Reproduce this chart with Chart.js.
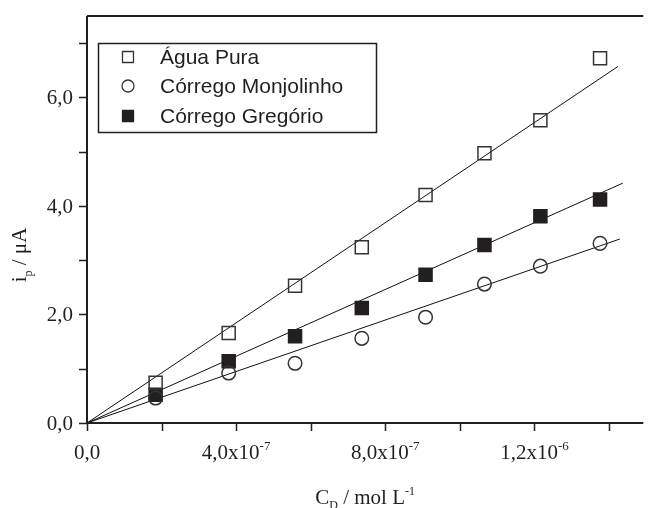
<!DOCTYPE html>
<html>
<head>
<meta charset="utf-8">
<script src="https://cdn.jsdelivr.net/npm/chart.js@4.4.1/dist/chart.umd.min.js"></script>
<style>
  html, body { margin: 0; padding: 0; background: #fff; overflow: hidden; }
</style>
</head>
<body>
<canvas id="chartCanvas" width="654" height="508"></canvas>
<script>
// concentration of D (mol/L) for each addition
const concentrations = [1.84e-7, 3.8e-7, 5.58e-7, 7.37e-7, 9.08e-7, 10.66e-7, 12.16e-7, 13.76e-7];
// peak current (uA)
const aguaPura   = [0.74, 1.66, 2.53, 3.24, 4.2, 4.97, 5.58, 6.72];
const monjolinho = [0.46, 0.92, 1.1, 1.56, 1.95, 2.56, 2.89, 3.31];
const gregorio   = [0.52, 1.14, 1.6, 2.12, 2.73, 3.28, 3.81, 4.12];

// fitted lines, start and end points
const fitAguaX = [0, 1.424e-6], fitAguaY = [0, 6.57];
const fitMonjX = [0, 1.429e-6], fitMonjY = [0, 3.39];
const fitGregX = [0, 1.437e-6], fitGregY = [0, 4.42];

const seriesNames = ['Água Pura', 'Córrego Monjolinho', 'Córrego Gregório'];

const xMajorTicks = [0, 4e-7, 8e-7, 1.2e-6];
const xMinorTicks = [2e-7, 6e-7, 1e-6, 1.4e-6];
const xTickLabels = [['0,0', ''], ['4,0x10', '-7'], ['8,0x10', '-7'], ['1,2x10', '-6']];
const yMajorTicks = [0, 2, 4, 6];
const yMinorTicks = [1, 3, 5, 7];
const yTickLabels = ['0,0', '2,0', '4,0', '6,0'];

const ink = '#231f20';
const SERIF = '"Liberation Serif", "Times New Roman", serif';
const SANS = '"Liberation Sans", Arial, sans-serif';

function pts(xs, ys) {
  return xs.map((v, i) => ({ x: v, y: ys[i] }));
}

function fitLine(xs, ys) {
  return {
    data: pts(xs, ys), showLine: true, pointRadius: 0,
    borderColor: '#111', borderWidth: 1, fill: false, order: 2
  };
}

const markerStyles = [
  { pointStyle: 'rect', pointRadius: 9.2, backgroundColor: 'rgba(255,255,255,0)', borderColor: '#333' },
  { pointStyle: 'circle', pointRadius: 6.8, backgroundColor: 'rgba(255,255,255,0)', borderColor: '#333' },
  { pointStyle: 'rect', pointRadius: 9.2, backgroundColor: ink, borderColor: ink }
];

const seriesData = [aguaPura, monjolinho, gregorio];
const markerSets = seriesData.map((ys, i) => Object.assign({
  label: seriesNames[i],
  data: pts(concentrations, ys),
  pointBorderWidth: 1.5,
  showLine: false,
  order: 1
}, markerStyles[i]));

function drawRich(ctx, parts, x, y, align) {
  let total = 0;
  parts.forEach(p => {
    ctx.font = p.size + 'px ' + SERIF;
    total += ctx.measureText(p.t).width;
  });
  let cx = align === 'center' ? x - total / 2 : (align === 'right' ? x - total : x);
  ctx.textAlign = 'left';
  ctx.textBaseline = 'alphabetic';
  parts.forEach(p => {
    ctx.font = p.size + 'px ' + SERIF;
    ctx.fillText(p.t, cx, y + (p.dy || 0));
    cx += ctx.measureText(p.t).width;
  });
}

const framePlugin = {
  id: 'framePlugin',
  afterDraw(chart) {
    const { ctx, chartArea: a } = chart;
    const xs = chart.scales.x, ys = chart.scales.y;
    ctx.save();
    ctx.strokeStyle = ink;
    ctx.fillStyle = ink;

    // axes and top border
    ctx.lineWidth = 2;
    ctx.beginPath();
    ctx.moveTo(a.left, a.top); ctx.lineTo(a.right, a.top);
    ctx.moveTo(a.left, a.top); ctx.lineTo(a.left, a.bottom); ctx.lineTo(a.right, a.bottom);
    ctx.stroke();

    // tick marks
    ctx.lineWidth = 1.5;
    ctx.beginPath();
    xMajorTicks.concat(xMinorTicks).forEach(v => {
      const px = Math.round(xs.getPixelForValue(v)) + 0.5;
      ctx.moveTo(px, a.bottom); ctx.lineTo(px, a.bottom + 8);
    });
    yMajorTicks.concat(yMinorTicks).forEach(v => {
      const py = Math.round(ys.getPixelForValue(v)) + 0.5;
      ctx.moveTo(a.left, py); ctx.lineTo(a.left - 8, py);
    });
    ctx.stroke();

    // tick labels
    xMajorTicks.forEach((v, i) => {
      const [base, sup] = xTickLabels[i];
      const parts = [{ t: base, size: 21 }];
      if (sup) parts.push({ t: sup, size: 13, dy: -9 });
      drawRich(ctx, parts, xs.getPixelForValue(v), 459, 'center');
    });
    yMajorTicks.forEach((v, i) => {
      drawRich(ctx, [{ t: yTickLabels[i], size: 21 }], 73, ys.getPixelForValue(v) + 7, 'right');
    });

    // axis titles
    drawRich(ctx, [
      { t: 'C', size: 21 }, { t: 'D', size: 12, dy: 5 },
      { t: ' / mol L', size: 21 }, { t: '-1', size: 12, dy: -9 }
    ], (a.left + a.right) / 2, 504, 'center');

    ctx.save();
    ctx.translate(26, 255);
    ctx.rotate(-Math.PI / 2);
    drawRich(ctx, [
      { t: 'i', size: 21 }, { t: 'p', size: 12, dy: 6 }, { t: ' / μA', size: 21 }
    ], 0, 0, 'center');
    ctx.restore();

    // legend box
    ctx.lineWidth = 1.5;
    ctx.strokeRect(98.5, 43.5, 278, 89);
    const rowY = [57, 86, 116];
    markerSets.forEach((ds, i) => {
      const cy = rowY[i];
      ctx.lineWidth = 1.3;
      ctx.strokeStyle = ds.borderColor;
      ctx.fillStyle = ds.backgroundColor;
      ctx.beginPath();
      if (ds.pointStyle === 'rect') {
        ctx.rect(122.5, cy - 5.5, 11, 11);
      } else {
        ctx.arc(128, cy, 6, 0, Math.PI * 2);
      }
      ctx.fill();
      ctx.stroke();
      ctx.fillStyle = ink;
      ctx.font = '21px ' + SANS;
      ctx.textAlign = 'left';
      ctx.textBaseline = 'middle';
      ctx.fillText(ds.label, 160, cy + 1);
    });
    ctx.restore();
  }
};

new Chart(document.getElementById('chartCanvas'), {
  type: 'scatter',
  data: {
    datasets: markerSets.concat([
      fitLine(fitAguaX, fitAguaY),
      fitLine(fitMonjX, fitMonjY),
      fitLine(fitGregX, fitGregY)
    ])
  },
  options: {
    responsive: false,
    animation: false,
    layout: { padding: { left: 87, right: 0, top: 16, bottom: 85 } },
    plugins: { legend: { display: false }, tooltip: { enabled: false } },
    scales: {
      x: { type: 'linear', min: 0, max: 1.492e-6, display: false },
      y: { type: 'linear', min: 0, max: 7.5, display: false }
    }
  },
  plugins: [framePlugin]
});
</script>
</body>
</html>
